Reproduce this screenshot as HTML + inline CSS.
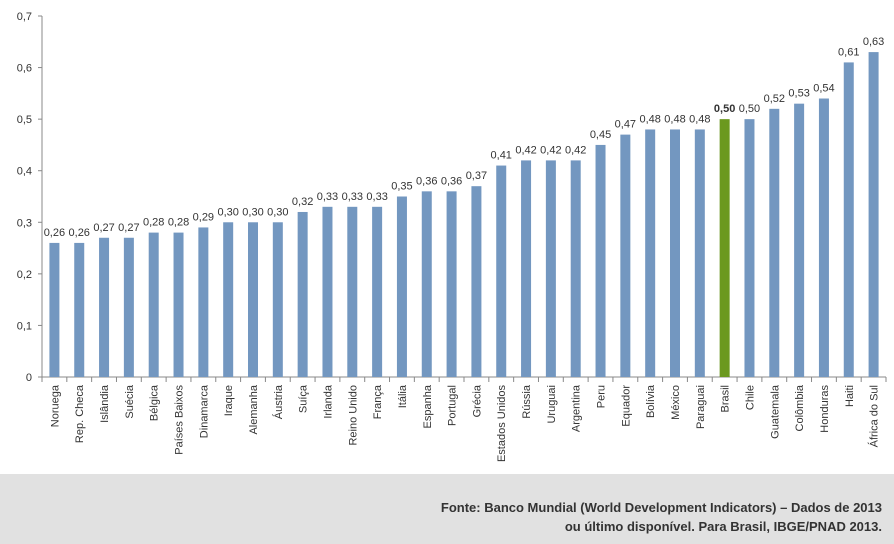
<!DOCTYPE html>
<html><head><meta charset="utf-8"><style>
body{margin:0;background:#fff;font-family:"Liberation Sans",sans-serif}
#wrap{position:relative;width:894px;height:544px;overflow:hidden}
#footer{position:absolute;left:0;top:474px;width:894px;height:70px;background:#e1e1e1}
#src{position:absolute;right:12px;top:24px;text-align:right;font-weight:bold;font-size:13px;line-height:19px;color:#333}
</style></head><body>
<div id="wrap">
<svg id="chart" width="894" height="474"></svg>
<div id="footer"><div id="src">Fonte: Banco Mundial (World Development Indicators) – Dados de 2013<br>ou último disponível. Para Brasil, IBGE/PNAD 2013.</div></div>
</div>
<script>
const categories=["Noruega","Rep. Checa","Islândia","Suécia","Bélgica","Países Baixos","Dinamarca","Iraque","Alemanha","Áustria","Suíça","Irlanda","Reino Unido","França","Itália","Espanha","Portugal","Grécia","Estados Unidos","Rússia","Uruguai","Argentina","Peru","Equador","Bolívia","México","Paraguai","Brasil","Chile","Guatemala","Colômbia","Honduras","Haiti","África do Sul"];
const values=[0.26,0.26,0.27,0.27,0.28,0.28,0.29,0.30,0.30,0.30,0.32,0.33,0.33,0.33,0.35,0.36,0.36,0.37,0.41,0.42,0.42,0.42,0.45,0.47,0.48,0.48,0.48,0.50,0.50,0.52,0.53,0.54,0.61,0.63];
const yTicks=[0,0.1,0.2,0.3,0.4,0.5,0.6,0.7];
const highlight="Brasil";
const NS="http://www.w3.org/2000/svg";
const svg=document.getElementById('chart');
const L=42,R=886,T=16,B=377,yMax=0.7;
const bw=(R-L)/categories.length;
function y(v){return B-(v/yMax)*(B-T);}
function x(i){return L+bw*(i+0.5);}
function mk(t,a,p){const e=document.createElementNS(NS,t);for(const k in a)e.setAttribute(k,a[k]);(p||svg).appendChild(e);return e;}
function fmt(v,d){return v.toFixed(d).replace('.',',');}
let ax=mk('line',{x1:L,y1:T,x2:L,y2:B,stroke:'#888'});


let bx=mk('line',{x1:L,y1:B,x2:R,y2:B,stroke:'#888'});


yTicks.forEach(t=>{
 mk('line',{x1:L-4,x2:L,y1:y(t),y2:y(t),stroke:'#888'});
 const tx=mk('text',{x:L-10,y:y(t)+4,'text-anchor':'end','font-size':11,fill:'#333'});
 tx.textContent=t===0?'0':fmt(t,1);
 
 
});
for(let i=0;i<=categories.length;i++){mk('line',{x1:L+bw*i,x2:L+bw*i,y1:B,y2:B+5,stroke:'#888'});}
categories.forEach((c,i)=>{
 const v=values[i],hl=c===highlight;
 const r=mk('rect',{x:x(i)-5,y:y(v),width:10,height:B-y(v),fill:hl?'#6b991f':'#7397c0'});
 
 
 const lb=mk('text',{x:x(i),y:y(v)-7,'text-anchor':'middle','font-size':11,fill:'#333','font-weight':hl?'bold':'normal'});
 lb.textContent=fmt(v,2);
 
 
 const cl=mk('text',{transform:`translate(${x(i)+4},${B+8}) rotate(-90)`,'text-anchor':'end','font-size':11,fill:'#333'});
 cl.textContent=c;
 
 
});
</script>
</body></html>
